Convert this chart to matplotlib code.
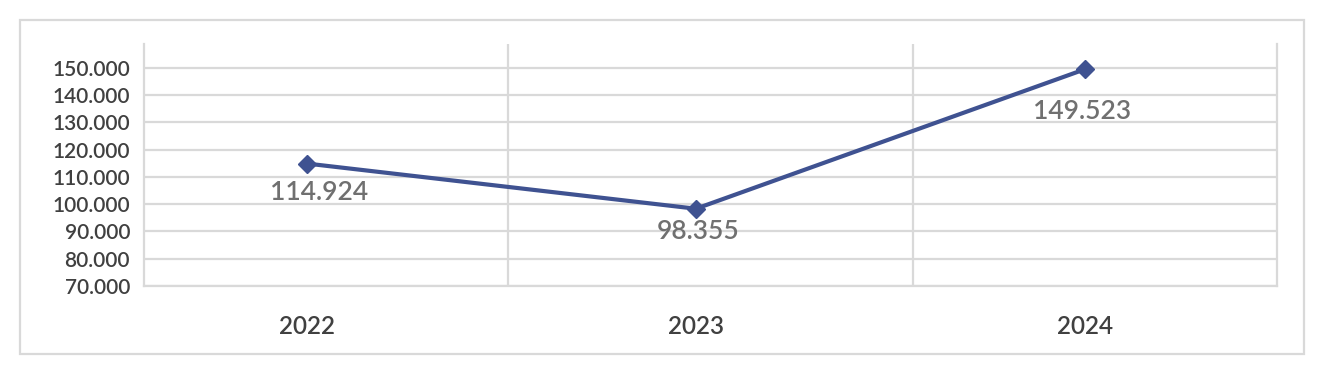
import matplotlib.pyplot as plt
from matplotlib.patches import Rectangle
from matplotlib.ticker import FuncFormatter

# data
years = ['2022', '2023', '2024']
values = [114924, 98355, 149523]

# label offsets (px) below each point
label_dx = [12, 2, -3]
label_dy = [-29, -23, -42]

plt.rcParams['font.family'] = ['Lato', 'DejaVu Sans']
plt.rcParams['font.weight'] = 'semibold'

grid = '#d9d9d9'
line_col = '#3f5291'

fig = plt.figure(figsize=(13.24, 3.74), dpi=100)
ax = fig.add_axes([144/1324, 1-286/374, (1277-144)/1324, (286-44)/374])

# outer chart border
fig.patches.append(Rectangle((20/1324, 1-354/374), 1284/1324, 334/374,
                             transform=fig.transFigure, fill=False,
                             edgecolor=grid, linewidth=1.6))

x = list(range(len(years)))
ax.plot(x, values, color=line_col, linewidth=3, marker='D', markersize=9,
        zorder=3)

for i, v in enumerate(values):
    txt = f'{v:,}'.replace(',', '.')
    ax.annotate(txt, (x[i], v), xytext=(label_dx[i]*0.72, label_dy[i]*0.72),
                textcoords='offset points', ha='center', va='center',
                fontsize=19, color='#707070', zorder=4)

ax.set_ylim(70000, 158800)
ax.set_xlim(-0.419, 2.494)
ax.set_yticks(range(70000, 150001, 10000))
ax.yaxis.set_major_formatter(FuncFormatter(lambda v, p: f'{int(v):,}'.replace(',', '.')))
ax.set_xticks(x)
ax.set_xticklabels(years)
ax.set_xticks([0.517, 1.558], minor=True)

ax.grid(axis='y', which='major', color=grid, linewidth=1.6)
ax.grid(axis='x', which='minor', color=grid, linewidth=1.6)
ax.set_axisbelow(True)

ax.tick_params(axis='y', length=0, pad=10, labelsize=15, labelcolor='#404040')
ax.tick_params(axis='x', which='major', length=0, pad=21, labelsize=17.5, labelcolor='#404040')
ax.tick_params(axis='x', which='minor', length=0)

for s in ['left', 'right', 'bottom']:
    ax.spines[s].set_color(grid)
    ax.spines[s].set_linewidth(1.6)
ax.spines['top'].set_visible(False)

plt.savefig('out.png', dpi=100)
